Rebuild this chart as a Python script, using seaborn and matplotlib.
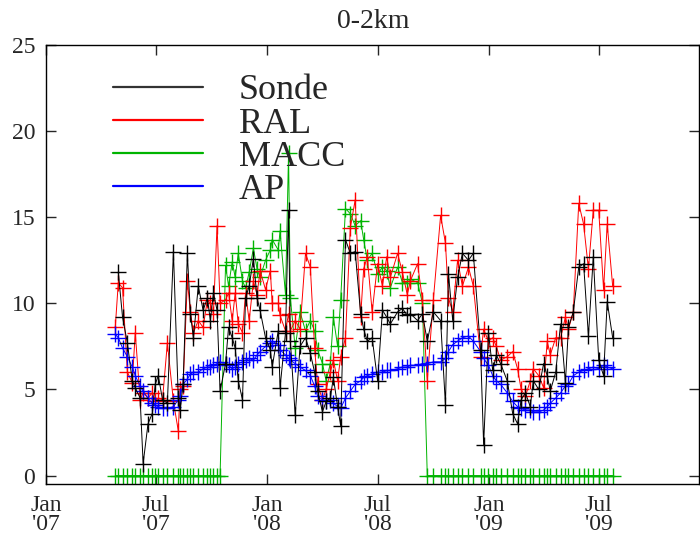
import pandas as pd
import seaborn as sns
import matplotlib.pyplot as plt
from matplotlib.lines import Line2D

# Sample dates (sonde launches)
dates = [
    "2007-04-25", "2007-04-30", "2007-05-07", "2007-05-15", "2007-05-23", "2007-05-28", "2007-06-05", "2007-06-10", "2007-06-18", "2007-06-25",
    "2007-06-30", "2007-07-05", "2007-07-12", "2007-07-20", "2007-07-30", "2007-08-07", "2007-08-10", "2007-08-15", "2007-08-22", "2007-08-27",
    "2007-09-01", "2007-09-09", "2007-09-17", "2007-09-24", "2007-09-29", "2007-10-04", "2007-10-10", "2007-10-15", "2007-10-24", "2007-10-29",
    "2007-11-04", "2007-11-09", "2007-11-14", "2007-11-21", "2007-11-26", "2007-12-02", "2007-12-09", "2007-12-15", "2007-12-20", "2007-12-29",
    "2008-01-06", "2008-01-09", "2008-01-19", "2008-01-22", "2008-01-31", "2008-02-05", "2008-02-08", "2008-02-16", "2008-02-24", "2008-03-04",
    "2008-03-12", "2008-03-19", "2008-03-24", "2008-04-01", "2008-04-07", "2008-04-14", "2008-04-19", "2008-04-26", "2008-05-01", "2008-05-09",
    "2008-05-17", "2008-05-25", "2008-06-03", "2008-06-08", "2008-06-14", "2008-06-22", "2008-07-01", "2008-07-09", "2008-07-16", "2008-07-22",
    "2008-08-03", "2008-08-11", "2008-08-19", "2008-08-24", "2008-09-05", "2008-09-13", "2008-09-21", "2008-10-01", "2008-10-13", "2008-10-21",
    "2008-10-26", "2008-11-02", "2008-11-10", "2008-11-18", "2008-11-28", "2008-12-06", "2008-12-18", "2008-12-23", "2008-12-31", "2009-01-07",
    "2009-01-13", "2009-01-20", "2009-01-31", "2009-02-09", "2009-02-17", "2009-02-23", "2009-03-02", "2009-03-10", "2009-03-15", "2009-03-24",
    "2009-04-01", "2009-04-07", "2009-04-12", "2009-04-21", "2009-04-29", "2009-05-07", "2009-05-12", "2009-05-20", "2009-05-29", "2009-06-06",
    "2009-06-14", "2009-06-22", "2009-07-01", "2009-07-09", "2009-07-15", "2009-07-24",
]

nan = float("nan")
sonde = [
    nan, 11.8, 9.2, 7.7, 5.5, 5.1, 4.5, 0.7, 3.0, 3.6,
    5.3, 5.8, 4.4, 4.2, 13.0, 4.5, 3.8, 5.3, 12.9, 9.4,
    8.0, 11.0, 9.6, 10.3, 9.0, 10.6, 9.6, 4.9, 6.5, 8.6,
    8.0, 7.4, 5.5, 4.4, 10.3, 11.0, 12.6, 10.3, 9.6, 8.0,
    7.3, 6.3, 8.4, 5.1, 8.3, 15.4, 7.8, 3.5, 7.5, 8.0,
    7.1, 6.0, 4.9, 3.7, 4.3, 4.5, 5.7, 4.0, 2.9, 13.7,
    12.9, 13.0, 9.4, 8.5, 7.8, 8.0, 5.5, 9.6, 9.2, 8.8,
    9.5, 9.7, 9.3, 9.4, 9.0, 9.4, 7.8, 9.5, 9.0, 4.1,
    11.7, 9.0, 11.5, 12.9, 12.5, 12.9, 7.3, 1.8, 8.3, 6.1,
    7.0, 6.5, 5.5, 3.6, 3.0, 4.4, 4.8, 4.0, 5.5, 5.0,
    6.5, 5.8, 4.9, 6.0, 8.8, 5.4, 8.6, 9.5, 12.1, 12.3,
    8.1, 12.7, 6.7, 5.8, 10.1, 8.0,
]
ral = [
    8.6, 11.2, 10.9, 6.0, 5.4, 8.3, 4.4, 4.8, 4.5, 4.8,
    4.3, 4.5, 4.4, 7.7, 4.3, 2.6, 5.0, 5.2, 11.3, 9.5,
    8.3, 9.0, 8.6, 10.2, 10.0, 9.4, 14.5, 10.0, 10.2, 10.6,
    9.0, 10.6, 8.8, 8.3, 10.6, 9.0, 11.3, 10.5, 11.9, 10.8,
    11.9, 10.0, 10.0, 9.3, 8.4, 9.4, 8.4, 9.0, 8.5, 12.9,
    12.1, 7.4, 5.3, 4.4, 5.0, 6.0, 6.7, 5.5, 6.9, 8.0,
    14.4, 16.0, 9.2, 12.0, 12.7, 9.5, 12.3, 11.0, 12.7, 11.5,
    12.9, 11.8, 10.5, 11.3, 12.3, 10.2, 5.5, 10.2, 15.1, 13.5,
    10.3, 9.5, 12.5, 11.0, 12.1, 11.0, 6.9, 8.5, 7.8, 8.0,
    7.5, 6.7, 6.9, 7.2, 6.2, 5.0, 4.6, 5.5, 6.2, 5.8,
    5.1, 7.8, 7.0, 8.0, 8.0, 9.2, 8.5, 9.5, 15.8, 14.6,
    12.0, 15.4, 15.4, 10.8, 14.6, 11.0,
]
macc = [
    0, 0, 0, 0, 0, 0, 0, 0, 0, 0,
    0, 0, 0, 0, 0, 0, 0, 0, 0, 0,
    0, 0, 0, 0, 0, 0, 0, 0, 12.2, 11.0,
    12.4, 11.5, 12.9, 11.3, 10.9, 11.8, 13.2, 12.0, 11.5, 12.5,
    13.1, 13.7, 13.1, 14.2, 10.5, 18.7, 10.3, 7.4, 9.5, 8.4,
    9.0, 8.4, 7.3, 6.5, 5.5, 6.5, 9.2, 7.5, 10.2, 15.5,
    15.2, 14.5, 14.8, 13.7, 12.5, 12.9, 11.7, 12.1, 11.9, 10.9,
    12.1, 11.2, 11.2, 11.4, 11.2, 10.0, 0, 0, 0, 0,
    0, 0, 0, 0, 0, 0, 0, 0, 0, 0,
    0, 0, 0, 0, 0, 0, 0, 0, 0, 0,
    0, 0, 0, 0, 0, 0, 0, 0, 0, 0,
    0, 0, 0, 0, 0, 0,
]
ap = [
    8.2, 8.0, 7.4, 6.9, 6.3, 5.8, 5.2, 4.9, 4.5, 4.2,
    4.1, 4.0, 3.9, 3.9, 4.0, 4.4, 4.6, 5.3, 5.6, 5.9,
    6.0, 6.0, 6.2, 6.3, 6.3, 6.4, 6.5, 6.6, 6.5, 6.4,
    6.2, 6.3, 6.5, 6.6, 6.7, 6.8, 6.7, 7.0, 7.2, 7.5,
    7.7, 7.8, 7.6, 7.3, 7.0, 6.8, 6.7, 6.5, 6.3, 6.1,
    5.8, 5.2, 4.6, 4.4, 4.3, 4.4, 4.2, 4.0, 3.9, 4.5,
    4.9, 5.3, 5.5, 5.7, 5.8, 5.9, 6.0, 6.0, 6.1, 6.1,
    6.2, 6.3, 6.3, 6.4, 6.4, 6.5, 6.5, 6.6, 6.6, 6.8,
    7.2, 7.6, 7.8, 8.0, 8.1, 7.8, 7.2, 6.8, 6.4, 5.8,
    5.5, 5.3, 4.8, 4.3, 4.0, 3.9, 3.8, 3.8, 3.7, 3.7,
    3.8, 4.0, 4.2, 4.5, 4.8, 5.2, 5.3, 5.8, 6.0, 6.1,
    6.2, 6.3, 6.2, 6.4, 6.3, 6.2,
]

tick_dates = ["2007-01-01", "2007-07-01", "2008-01-01", "2008-07-01", "2009-01-01", "2009-07-01"]
tick_labels = ["Jan\n'07", "Jul\n'07", "Jan\n'08", "Jul\n'08", "Jan\n'09", "Jul\n'09"]

df = pd.DataFrame({"Date": pd.to_datetime(dates), "Sonde": sonde, "RAL": ral, "MACC": macc, "AP": ap})

sns.set_style("ticks")
plt.rcParams["font.family"] = ["Liberation Serif", "DejaVu Serif"]

fig = plt.figure(figsize=(7, 5.35), dpi=100)
ax = fig.add_axes([0.066, 0.095, 0.933, 0.821])

colors = {"Sonde": "black", "RAL": "#ff0000", "MACC": "#00b400", "AP": "#0000ff"}

# draw order: MACC under, Sonde on top
for z, name in enumerate(["MACC", "RAL", "AP", "Sonde"]):
    sub = df[["Date", name]].dropna()
    sns.lineplot(data=sub, x="Date", y=name, color=colors[name], estimator=None,
                 marker="+", markersize=12, markeredgewidth=1.0, markeredgecolor=colors[name],
                 linewidth=0.7, zorder=2 + z, ax=ax)

ax.set_xlim(pd.Timestamp("2007-01-01"), pd.Timestamp("2009-12-14"))
ax.set_ylim(-0.5, 25)
ax.set_yticks([0, 5, 10, 15, 20, 25])
ax.set_xticks(pd.to_datetime(tick_dates))
ax.set_xticklabels(tick_labels, linespacing=0.85)
ax.set_xlabel("")
ax.set_ylabel("")
ax.tick_params(direction="in", length=7, width=1, top=True, right=True, labelsize=17, pad=8)
for s in ax.spines.values():
    s.set_linewidth(1)
    s.set_color("black")

ax.set_title("0-2km", fontsize=20, pad=12)

handles = [Line2D([], [], color=("#333333" if n == "Sonde" else colors[n]), lw=1.6)
           for n in ["Sonde", "RAL", "MACC", "AP"]]
ax.legend(handles, ["Sonde", "RAL", "MACC", "AP"], loc="upper left", bbox_to_anchor=(0.074, 0.975),
          frameon=False, fontsize=26, handlelength=2.5, handletextpad=1.0, labelspacing=0.0,
          borderpad=0)

fig.savefig("out.png", dpi=100)
